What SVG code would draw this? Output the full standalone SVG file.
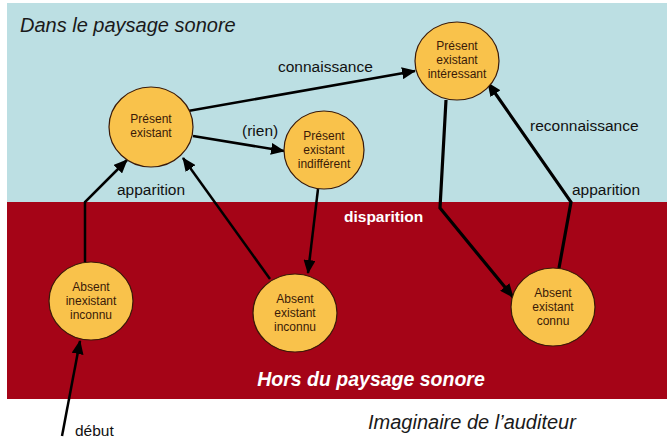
<svg xmlns="http://www.w3.org/2000/svg" width="671" height="441" viewBox="0 0 671 441">
<style>
.node ellipse{fill:#F9C24B;stroke:#3a1a08;stroke-width:1.2}
.node text{font-family:"Liberation Sans",Arial,sans-serif;font-size:12px;fill:#3a1a08;text-anchor:middle}
.edge{fill:none;stroke:#000;stroke-width:2.5;stroke-linejoin:miter}
.thick{stroke-width:3.2}
.lbl{font-family:"Liberation Sans",Arial,sans-serif;font-size:15.5px;fill:#111}
.white{fill:#fff;font-weight:bold}
.zone{font-family:"Liberation Sans",Arial,sans-serif;font-size:20px;font-style:italic;fill:#1a1a1a}
.zone.hors{fill:#fff;font-weight:bold;font-size:19.5px}
</style>
<defs>
<marker id="ah" markerUnits="userSpaceOnUse" markerWidth="14" markerHeight="12" refX="13" refY="6" orient="auto">
<path d="M0,0 L14,6 L0,12 z" fill="#000"/>
</marker>
</defs>
<rect width="671" height="441" fill="#fff"/>
<rect x="7" y="3" width="660" height="199" fill="#BCDFE3"/>
<rect x="7" y="202" width="660" height="197" fill="#A50417"/>
<text class="zone" x="20" y="32">Dans le paysage sonore</text>
<text class="zone hors" x="371" y="386" text-anchor="middle">Hors du paysage sonore</text>
<text class="zone" x="368" y="429">Imaginaire de l’auditeur</text>
<g id="connectors">
<path class="edge" d="M62,436 L80,341" marker-end="url(#ah)"/>
<path class="edge" d="M85,262 L85,202 L127,160" marker-end="url(#ah)"/>
<path class="edge" d="M270,279 L183,158" marker-end="url(#ah)"/>
<path class="edge" d="M193,136 L284,151" marker-end="url(#ah)"/>
<path class="edge" d="M188,111 L415,71" marker-end="url(#ah)"/>
<path class="edge" d="M318,189 L308,273" marker-end="url(#ah)"/>
<path class="edge thick" d="M446,100 L440,208 L513,297" marker-end="url(#ah)"/>
<path class="edge thick" d="M559,268 L571,202 L488,83" marker-end="url(#ah)"/>
<text class="lbl" x="278" y="72">connaissance</text>
<text class="lbl" x="242" y="136">(rien)</text>
<text class="lbl" x="117" y="195">apparition</text>
<text class="lbl" x="530" y="131">reconnaissance</text>
<text class="lbl" x="572" y="195">apparition</text>
<text class="lbl white" x="344" y="222">disparition</text>
<text class="lbl" x="75" y="436">début</text>
</g>
<g id="present-existant" class="node">
<ellipse cx="151" cy="127" rx="42" ry="40"/>
<text x="151" y="123">Présent</text>
<text x="151" y="137">existant</text>
</g>
<g id="present-indifferent" class="node">
<ellipse cx="324" cy="150" rx="40" ry="39"/>
<text x="324" y="140">Présent</text>
<text x="324" y="154">existant</text>
<text x="324" y="168">indifférent</text>
</g>
<g id="present-interessant" class="node">
<ellipse cx="457" cy="61" rx="42" ry="39"/>
<text x="457" y="50">Présent</text>
<text x="457" y="64">existant</text>
<text x="457" y="78">intéressant</text>
</g>
<g id="absent-inexistant" class="node">
<ellipse cx="91" cy="301" rx="42" ry="39"/>
<text x="91" y="291">Absent</text>
<text x="91" y="305">inexistant</text>
<text x="91" y="319">inconnu</text>
</g>
<g id="absent-inconnu" class="node">
<ellipse cx="295" cy="313" rx="42" ry="39"/>
<text x="295" y="303">Absent</text>
<text x="295" y="317">existant</text>
<text x="295" y="331">inconnu</text>
</g>
<g id="absent-connu" class="node">
<ellipse cx="553" cy="307" rx="42" ry="39"/>
<text x="553" y="297">Absent</text>
<text x="553" y="311">existant</text>
<text x="553" y="325">connu</text>
</g>
</svg>
